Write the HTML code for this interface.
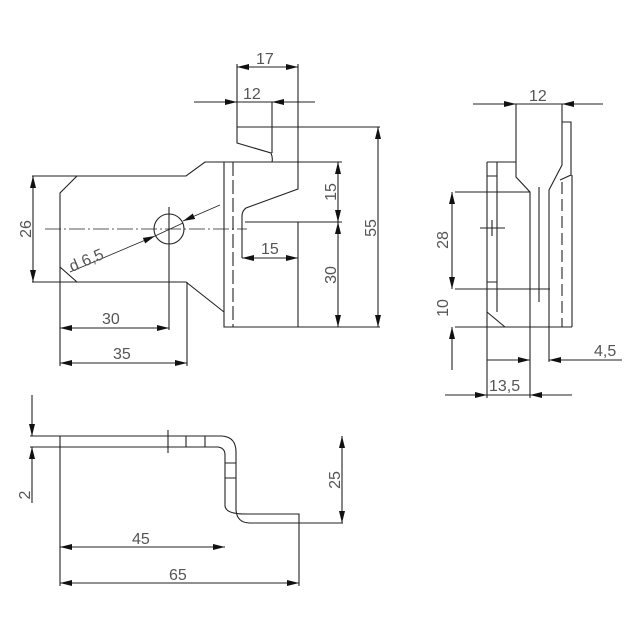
<!DOCTYPE html>
<html><head><style>
html,body{margin:0;padding:0;background:#fff;}
svg{display:block;}
text{font-family:"Liberation Sans",sans-serif;font-size:16px;fill:#555;}
</style></head><body>
<svg width="640" height="640" viewBox="0 0 640 640" xmlns="http://www.w3.org/2000/svg">
<defs>
<marker id="a" viewBox="0 0 12 6" refX="12" refY="3" markerWidth="12" markerHeight="6" markerUnits="userSpaceOnUse" orient="auto-start-reverse">
<path d="M0,0 L12,3 L0,6 Z" fill="#111"/>
</marker>
</defs>
<g stroke="#222" stroke-width="1.1" fill="none">
<!-- FRONT VIEW -->
<path d="M32,176 H186 L205,162 H342"/>
<path d="M32,282 H186 L224,312"/>
<path d="M77,176 L60,193 V267 L77,282"/>
<path d="M224,162 V327 H380"/>
<path d="M233,162 V327" stroke-dasharray="14,4"/>
<path d="M237,64 V143 L271,153 Q273,158 272,162"/>
<path d="M272,102 V153"/>
<path d="M298,64 V189 L246,208 Q242,211 242,216 V258"/>
<path d="M298,222 V327"/>
<path d="M245,222 H342"/>
<path d="M237,127 H380"/>
<path d="M45,229 H247" stroke-dasharray="16,3,2,3" stroke-width="0.8"/>
<circle cx="169" cy="229" r="15"/>
<path d="M169,207 V330"/>
<path d="M60,267 V366"/>
<path d="M187,282 V366"/>
<path d="M237,67 H298" marker-start="url(#a)" marker-end="url(#a)"/>
<path d="M194,102 H237" marker-end="url(#a)"/>
<path d="M315,102 H272" marker-end="url(#a)"/>
<path d="M237,102 H272"/>
<path d="M242,258 H298" marker-start="url(#a)" marker-end="url(#a)"/>
<path d="M338,162 V222" marker-start="url(#a)" marker-end="url(#a)"/>
<path d="M338,222 V327" marker-start="url(#a)" marker-end="url(#a)"/>
<path d="M378,127 V327" marker-start="url(#a)" marker-end="url(#a)"/>
<path d="M33,176 V282" marker-start="url(#a)" marker-end="url(#a)"/>
<path d="M60,328 H169" marker-start="url(#a)" marker-end="url(#a)"/>
<path d="M60,363 H187" marker-start="url(#a)" marker-end="url(#a)"/>
<path d="M70,272 L155,236" marker-end="url(#a)" stroke-width="0.8"/>
<path d="M155,236 L183,223" stroke-width="0.8"/>
<path d="M220,205 L183,221" marker-end="url(#a)" stroke-width="0.8"/>

<!-- SIDE VIEW -->
<path d="M487,162 H516 M516,104 V177 L530,192 V398"/>
<path d="M487,162 V398"/>
<path d="M497,162 V312"/>
<path d="M487,176 H497 M487,282 H497"/>
<path d="M487,312 L505,327"/>
<path d="M562,104 V165 L549,190 V362"/>
<path d="M562,122 H571 V175 L560,180"/>
<path d="M572,175 V327"/>
<path d="M562,182 V327" stroke-dasharray="12,5"/>
<path d="M539,187 V302"/>
<path d="M455,327 H572"/>
<path d="M455,192 H530"/>
<path d="M455,289 H550"/>
<path d="M480,228 H505 M492,220 V236"/>
<path d="M473,104 H516" marker-end="url(#a)"/>
<path d="M603,104 H562" marker-end="url(#a)"/>
<path d="M516,104 H562"/>
<path d="M452,192 V289" marker-start="url(#a)" marker-end="url(#a)"/>
<path d="M452,370 V327" marker-end="url(#a)"/>
<path d="M487,360 H530" marker-end="url(#a)"/>
<path d="M622,360 H549" marker-end="url(#a)"/>
<path d="M445,395 H487" marker-end="url(#a)"/>
<path d="M572,395 H530" marker-end="url(#a)"/>
<path d="M487,395 H530"/>

<!-- BOTTOM VIEW -->
<path d="M30,436 H222 Q236,437 236,452 V510 Q237,523 250,523 H343"/>
<path d="M30,447 H218 Q225,448 225,455 V506 Q226,514 245,514 H299 V586"/>
<path d="M60,436 V586"/>
<path d="M168,430 V453 M186,436 V447 M205,436 V447"/>
<path d="M225,463 H236 M225,478 H236"/>
<path d="M342,436 V523" marker-start="url(#a)" marker-end="url(#a)"/>
<path d="M32,395 V436" marker-end="url(#a)"/>
<path d="M32,503 V447" marker-end="url(#a)"/>
<path d="M60,547 H225" marker-start="url(#a)" marker-end="url(#a)"/>
<path d="M60,583 H299" marker-start="url(#a)" marker-end="url(#a)"/>
</g>
<text x="256" y="64">17</text>
<text x="243" y="99">12</text>
<text x="261" y="254">15</text>
<text x="102" y="324">30</text>
<text x="113" y="359">35</text>
<text transform="translate(336,192) rotate(-90)" text-anchor="middle">15</text>
<text transform="translate(336,275) rotate(-90)" text-anchor="middle">30</text>
<text transform="translate(376,228) rotate(-90)" text-anchor="middle">55</text>
<text transform="translate(31,229) rotate(-90)" text-anchor="middle">26</text>
<text transform="translate(72,272) rotate(-23)">d  6,5</text>
<text x="529" y="101">12</text>
<text transform="translate(448,240) rotate(-90)" text-anchor="middle">28</text>
<text transform="translate(448,308) rotate(-90)" text-anchor="middle">10</text>
<text x="594" y="356">4,5</text>
<text x="489" y="391">13,5</text>
<text x="132" y="544">45</text>
<text x="169" y="580">65</text>
<text transform="translate(340,480) rotate(-90)" text-anchor="middle">25</text>
<text transform="translate(30,495) rotate(-90)" text-anchor="middle">2</text>
</svg>
</body></html>
